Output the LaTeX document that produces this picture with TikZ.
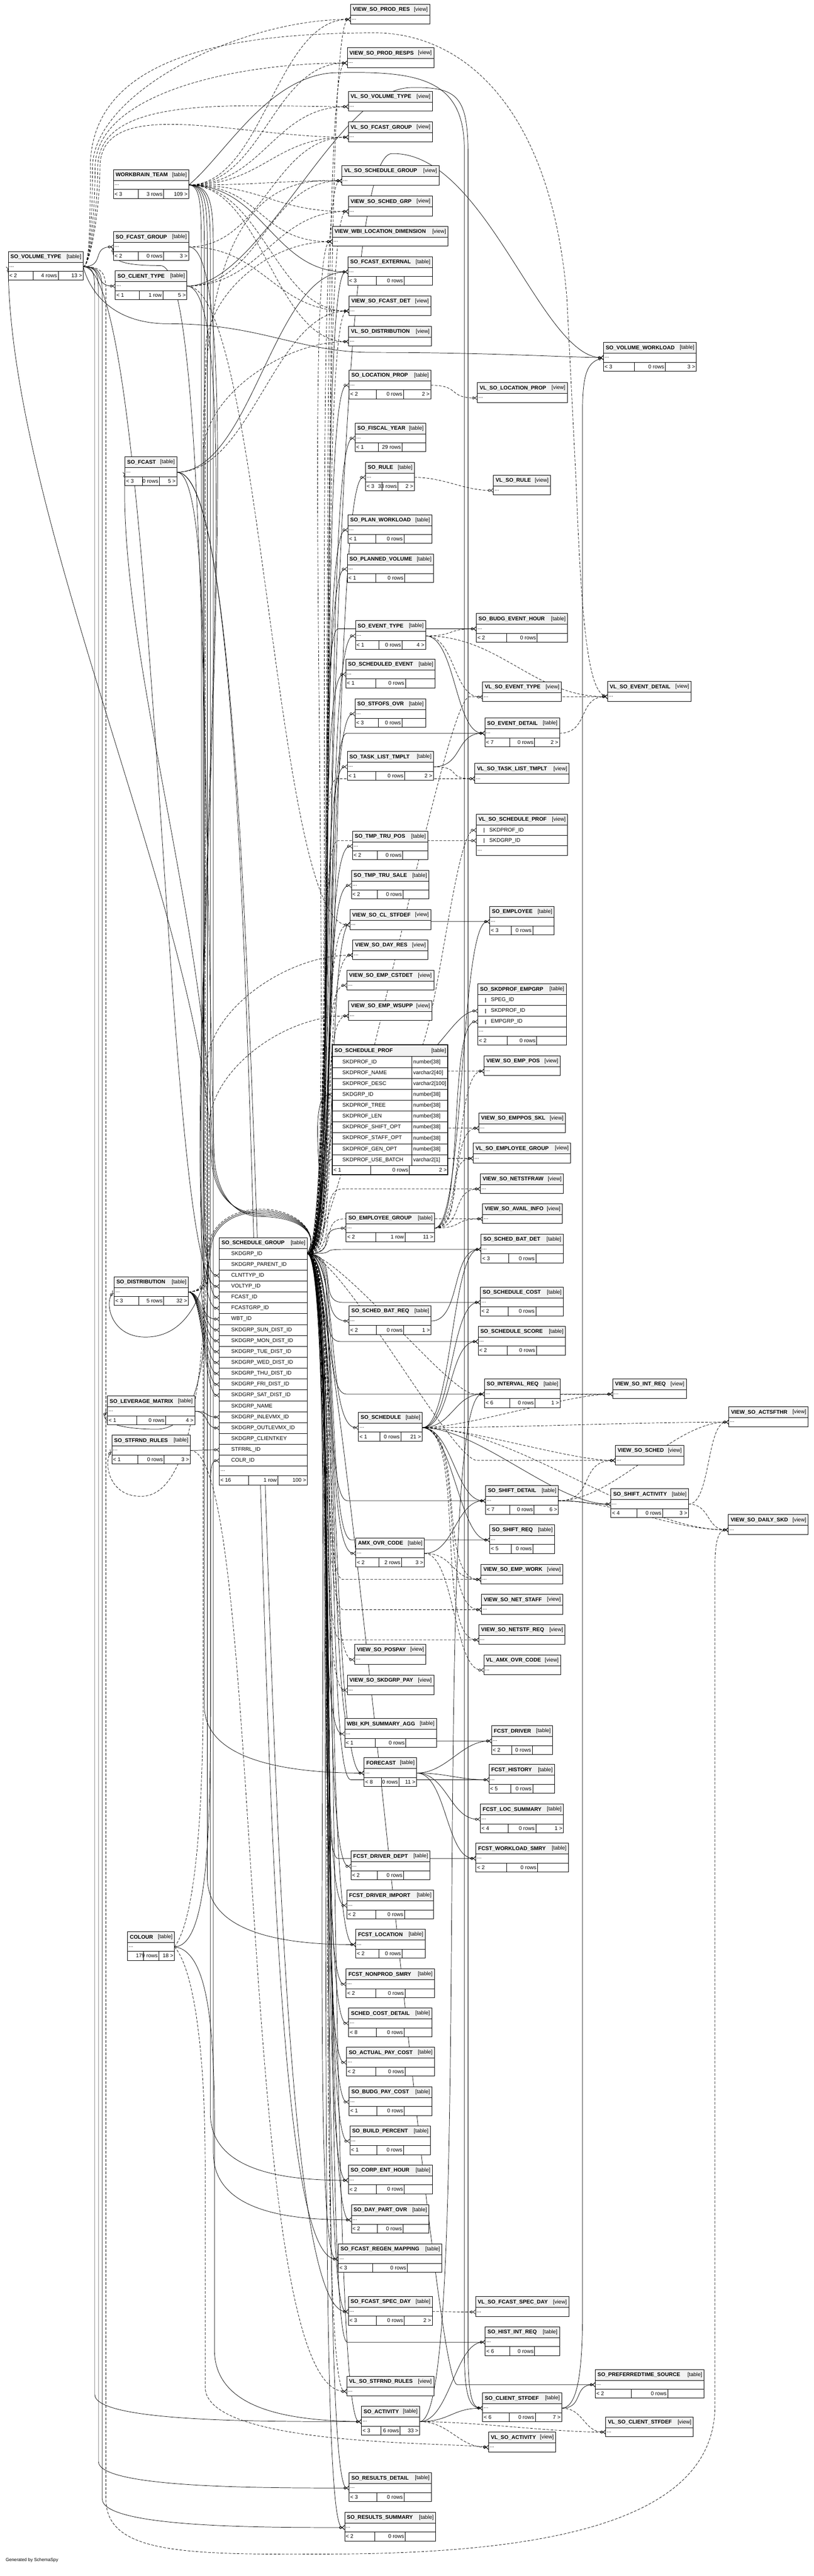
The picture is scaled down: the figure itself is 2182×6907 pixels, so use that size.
\documentclass[tikz,border=0pt]{standalone}
\usepackage{fontspec}
\usetikzlibrary{arrows.meta,calc}
\newfontfamily\tablefamily{Liberation Sans}
\newcommand{\tablefont}{\tablefamily\fontsize{14.4bp}{17bp}\selectfont}
\definecolor{headgray}{HTML}{F2F2F2}
\pgfdeclarelayer{edges}
\pgfsetlayers{edges,main}
\newlength{\footwa}\newlength{\footwb}\newlength{\footwc}

\tikzset{
  cellline/.style={line width=1bp},
  cell/.style={draw, cellline, inner sep=0pt, outer sep=0pt, fill=white},
  headcell/.style={cell, fill=headgray, minimum height=29bp},
  dotcell/.style={cell, minimum height=24bp},
  footcell/.style={cell, minimum height=24bp},
  colcell/.style={cell, minimum height=29.2bp},
  celltext/.style={inner sep=3bp, font=\tablefont},
  titletext/.style={celltext, font=\tablefont\bfseries},
  keymark/.style={line width=1.6bp},
  fk/.style={line width=1bp, -{Circle[open,length=7bp,width=7bp,line width=1bp] Straight Barb[reversed,length=6bp,width=11bp,line width=1bp]}},
  implied/.style={fk, dash pattern=on 7bp off 4bp}
}

% header row: node, x, y, x right, title, kind
\newcommand{\dbheader}[6]{%
  \node[headcell, minimum width={(#4-#2)*1bp}, anchor=north west] (#1-h) at ({#2},{#3}) {};
  \node[titletext, anchor=west] at ([xshift=3bp]#1-h.west) {#5};
  \node[celltext, anchor=east] at ([xshift=-2bp]#1-h.east) {[#6]};
}
% the "..." row, which the connectors use
\newcommand{\dbdots}[4]{%
  \node[dotcell, minimum width={(#4-#2)*1bp}, anchor=north west] (#1) at ({#2},{#3}) {};
  \node[celltext, anchor=west] at (#1.west) {...};
}
% footer row: node, x, y, x right, parents, rows, children
\newcommand{\dbfooter}[7]{%
  \settowidth{\footwa}{\tablefont #5}\settowidth{\footwb}{\tablefont #6}\settowidth{\footwc}{\tablefont #7}%
  \pgfmathsetmacro{\tblextra}{((#4-#2)*1.00374-\footwa-\footwb-\footwc-24)/3}%
  \pgfmathsetmacro{\splitA}{#2+(\footwa+8+\tblextra)/1.00374}%
  \pgfmathsetmacro{\splitB}{\splitA+(\footwb+8+\tblextra)/1.00374}%
  \node[footcell, minimum width={(#4-#2)*1bp}, anchor=north west] (#1-f) at ({#2},{#3}) {};
  \draw[cellline] ({\splitA},{#3}) -- ++(0,24);
  \draw[cellline] ({\splitB},{#3}) -- ++(0,24);
  \node[celltext, anchor=west] at (#1-f.west) {#5};
  \node[celltext, anchor=east] at ({\splitB},{#3+12}) {#6};
  \node[celltext, anchor=east] at (#1-f.east) {#7};
}
\newcommand{\dbview}[5]{%
  \dbheader{#1}{#2}{#3}{#4}{#5}{view}
  \dbdots{#1}{#2}{#3+29}{#4}
}
\newcommand{\dbtable}[8]{%
  \dbheader{#1}{#2}{#3}{#4}{#5}{table}
  \dbdots{#1}{#2}{#3+29}{#4}
  \dbfooter{#1}{#2}{#3+53}{#4}{#6}{#7}{#8}
}

\begin{document}
\begin{tikzpicture}[x=1bp,y=-1bp]
\useasboundingbox (0,0) rectangle (2182,6907);

% left column tables
\dbtable{volType}{22}{674}{223}{SO\_VOLUME\_TYPE}{< 2}{4 rows}{13 >}
\dbtable{wbTeam}{304}{455}{506}{WORKBRAIN\_TEAM}{< 3}{3 rows}{109 >}
\dbtable{fcastGrp}{304}{621}{506}{SO\_FCAST\_GROUP}{< 2}{0 rows}{3 >}
\dbtable{clientType}{309}{726}{501}{SO\_CLIENT\_TYPE}{< 1}{1 row}{5 >}
\dbtable{fcast}{335}{1225}{474}{SO\_FCAST}{< 3}{0 rows}{5 >}
\dbtable{dist}{306}{3423}{505}{SO\_DISTRIBUTION}{< 3}{5 rows}{32 >}
\dbtable{levMatrix}{288}{3743}{522}{SO\_LEVERAGE\_MATRIX}{< 1}{0 rows}{4 >}
\dbtable{stfrndRules}{300}{3848}{510}{SO\_STFRND\_RULES}{< 1}{0 rows}{3 >}
\dbtable{colour}{342}{5179}{468}{COLOUR}{}{179 rows}{18 >}

% schedule group table
\dbheader{schedGrp}{588}{3318}{824}{SO\_SCHEDULE\_GROUP}{table}
\foreach \colname [count=\i] in {SKDGRP\_ID,SKDGRP\_PARENT\_ID,CLNTTYP\_ID,VOLTYP\_ID,FCAST\_ID,FCASTGRP\_ID,WBT\_ID,SKDGRP\_SUN\_DIST\_ID,SKDGRP\_MON\_DIST\_ID,SKDGRP\_TUE\_DIST\_ID,SKDGRP\_WED\_DIST\_ID,SKDGRP\_THU\_DIST\_ID,SKDGRP\_FRI\_DIST\_ID,SKDGRP\_SAT\_DIST\_ID,SKDGRP\_NAME,SKDGRP\_INLEVMX\_ID,SKDGRP\_OUTLEVMX\_ID,SKDGRP\_CLIENTKEY,STFRRL\_ID,COLR\_ID} {
  \node[colcell, minimum width=236bp, anchor=north west] (schedGrp-\i) at (588,{3347+29.2*(\i-1)}) {};
  \node[celltext, anchor=west] at ([xshift=29bp]schedGrp-\i.west) {\colname};
}
\node[dotcell, minimum width=236bp, minimum height=26bp, anchor=north west] (schedGrp) at (588,3931) {};
\node[celltext, anchor=west] at (schedGrp.west) {...};
\dbfooter{schedGrp}{588}{3957}{824}{< 16}{1 row}{100 >}

% middle column
\dbview{viewProdRes}{940}{11}{1152}{VIEW\_SO\_PROD\_RES}
\dbview{viewProdResps}{931}{128}{1163}{VIEW\_SO\_PROD\_RESPS}
\dbview{vlVolType}{934}{245}{1159}{VL\_SO\_VOLUME\_TYPE}
\dbview{vlFcastGrp}{934}{327}{1159}{VL\_SO\_FCAST\_GROUP}
\dbview{vlSchedGrp}{917}{444}{1177}{VL\_SO\_SCHEDULE\_GROUP}
\dbview{viewSchedGrp}{934}{526}{1159}{VIEW\_SO\_SCHED\_GRP}
\dbview{viewWbiLoc}{891}{607}{1201}{VIEW\_WBI\_LOCATION\_DIMENSION}
\dbtable{fcastExt}{933}{688}{1159}{SO\_FCAST\_EXTERNAL}{< 3}{0 rows}{}
\dbview{viewFcastDet}{936}{793}{1155}{VIEW\_SO\_FCAST\_DET}
\dbview{vlDist}{935}{875}{1157}{VL\_SO\_DISTRIBUTION}
\dbtable{locProp}{936}{992}{1155}{SO\_LOCATION\_PROP}{< 2}{0 rows}{2 >}
\dbtable{fiscalYear}{952}{1134}{1141}{SO\_FISCAL\_YEAR}{< 1}{29 rows}{}
\dbtable{rule}{980}{1239}{1111}{SO\_RULE}{< 3}{33 rows}{2 >}
\dbtable{planWorkload}{933}{1380}{1158}{SO\_PLAN\_WORKLOAD}{< 1}{0 rows}{}
\dbtable{plannedVol}{931}{1485}{1162}{SO\_PLANNED\_VOLUME}{< 1}{0 rows}{}
\dbtable{eventType}{953}{1664}{1141}{SO\_EVENT\_TYPE}{< 1}{0 rows}{4 >}
\dbtable{schedEvent}{927}{1767}{1167}{SO\_SCHEDULED\_EVENT}{< 1}{0 rows}{}
\dbtable{stfofsOvr}{952}{1873}{1141}{SO\_STFOFS\_OVR}{< 3}{0 rows}{}
\dbtable{taskList}{931}{2015}{1162}{SO\_TASK\_LIST\_TMPLT}{< 1}{0 rows}{2 >}
\dbtable{tmpTruPos}{945}{2228}{1147}{SO\_TMP\_TRU\_POS}{< 2}{0 rows}{}
\dbtable{tmpTruSale}{942}{2333}{1150}{SO\_TMP\_TRU\_SALE}{< 2}{0 rows}{}
\dbview{viewClStfdef}{938}{2439}{1155}{VIEW\_SO\_CL\_STFDEF}
\dbview{viewDayRes}{946}{2520}{1147}{VIEW\_SO\_DAY\_RES}
\dbview{viewEmpCstdet}{930}{2601}{1163}{VIEW\_SO\_EMP\_CSTDET}
\dbview{viewEmpWsupp}{935}{2683}{1158}{VIEW\_SO\_EMP\_WSUPP}

% schedule prof table (drawn heavier)
\node[headcell, minimum width=310bp, minimum height=31bp, anchor=north west] (schedProf-h) at (891,2802) {};
\node[titletext, anchor=west] at ([xshift=3bp]schedProf-h.west) {SO\_SCHEDULE\_PROF};
\node[celltext, anchor=east] at ([xshift=-2bp]schedProf-h.east) {[table]};
\foreach \colname/\coltype [count=\i] in {SKDPROF\_ID/number[38],SKDPROF\_NAME/varchar2[40],SKDPROF\_DESC/varchar2[100],SKDGRP\_ID/number[38],SKDPROF\_TREE/number[38],SKDPROF\_LEN/number[38],SKDPROF\_SHIFT\_OPT/number[38],SKDPROF\_STAFF\_OPT/number[38],SKDPROF\_GEN\_OPT/number[38],SKDPROF\_USE\_BATCH/varchar2[1]} {
  \node[colcell, minimum width=213bp, anchor=north west] (schedProf-\i) at (891,{2833+29.2*(\i-1)}) {};
  \node[colcell, minimum width=97bp, anchor=north west] (schedProfType-\i) at (1104,{2833+29.2*(\i-1)}) {};
  \node[celltext, anchor=west] at ([xshift=24bp]schedProf-\i.west) {\colname};
  \node[celltext, anchor=west] at ([xshift=1bp]schedProfType-\i.west) {\coltype};
}
\dbfooter{schedProf}{891}{3125}{1201}{< 1}{0 rows}{2 >}
\draw[line width=2.6bp] (891,2802) rectangle (1201,3149);

\dbtable{empGroup}{928}{3252}{1165}{SO\_EMPLOYEE\_GROUP}{< 2}{1 row}{11 >}
\dbtable{schedBatReq}{936}{3501}{1156}{SO\_SCHED\_BAT\_REQ}{< 2}{0 rows}{1 >}
\dbtable{schedule}{961}{3787}{1132}{SO\_SCHEDULE}{< 1}{0 rows}{21 >}
\dbtable{amxOvr}{954}{4124}{1138}{AMX\_OVR\_CODE}{< 2}{2 rows}{3 >}
\dbview{viewPospay}{951}{4409}{1142}{VIEW\_SO\_POSPAY}
\dbview{viewSkdgrpPay}{931}{4491}{1163}{VIEW\_SO\_SKDGRP\_PAY}
\dbtable{wbiKpi}{924}{4608}{1170}{WBI\_KPI\_SUMMARY\_AGG}{< 1}{0 rows}{}
\dbtable{forecast}{976}{4713}{1117}{FORECAST}{< 8}{0 rows}{11 >}
\dbtable{fcstDriverDept}{941}{4963}{1153}{FCST\_DRIVER\_DEPT}{< 2}{0 rows}{}
\dbtable{fcstDriverImport}{930}{5068}{1162}{FCST\_DRIVER\_IMPORT}{< 2}{0 rows}{}
\dbtable{fcstLocation}{954}{5173}{1140}{FCST\_LOCATION}{< 2}{0 rows}{}
\dbtable{fcstNonprod}{928}{5279}{1165}{FCST\_NONPROD\_SMRY}{< 2}{0 rows}{}
\dbtable{schedCostDet}{935}{5384}{1158}{SCHED\_COST\_DETAIL}{< 8}{0 rows}{}
\dbtable{actualPay}{929}{5489}{1165}{SO\_ACTUAL\_PAY\_COST}{< 2}{0 rows}{}
\dbtable{budgPay}{936}{5595}{1158}{SO\_BUDG\_PAY\_COST}{< 1}{0 rows}{}
\dbtable{buildPct}{938}{5700}{1154}{SO\_BUILD\_PERCENT}{< 1}{0 rows}{}
\dbtable{corpEnt}{934}{5805}{1159}{SO\_CORP\_ENT\_HOUR}{< 2}{0 rows}{}
\dbtable{dayPart}{942}{5911}{1150}{SO\_DAY\_PART\_OVR}{< 2}{0 rows}{}
\dbtable{regenMap}{907}{6016}{1185}{SO\_FCAST\_REGEN\_MAPPING}{< 3}{0 rows}{}
\dbtable{fcastSpecDay}{934}{6157}{1159}{SO\_FCAST\_SPEC\_DAY}{< 3}{0 rows}{2 >}
\dbview{vlStfrnd}{930}{6371}{1163}{VL\_SO\_STFRND\_RULES}
\dbtable{activity}{969}{6452}{1125}{SO\_ACTIVITY}{< 3}{6 rows}{33 >}
\dbtable{resultsDet}{936}{6630}{1157}{SO\_RESULTS\_DETAIL}{< 3}{0 rows}{}
\dbtable{resultsSum}{924}{6736}{1168}{SO\_RESULTS\_SUMMARY}{< 2}{0 rows}{}

% right column
\dbview{vlLocProp}{1280}{1026}{1521}{VL\_SO\_LOCATION\_PROP}
\dbview{vlRule}{1323}{1274}{1476}{VL\_SO\_RULE}
\dbtable{budgEvent}{1277}{1645}{1522}{SO\_BUDG\_EVENT\_HOUR}{< 2}{0 rows}{}
\dbview{vlEventType}{1294}{1828}{1505}{VL\_SO\_EVENT\_TYPE}
\dbtable{eventDetail}{1300}{1925}{1500}{SO\_EVENT\_DETAIL}{< 7}{0 rows}{2 >}
\dbview{vlTaskList}{1273}{2047}{1526}{VL\_SO\_TASK\_LIST\_TMPLT}

% schedule prof view with its two key columns
\dbheader{vlSchedProf}{1277}{2183}{1522}{VL\_SO\_SCHEDULE\_PROF}{view}
\foreach \colname [count=\i] in {SKDPROF\_ID,SKDGRP\_ID} {
  \node[colcell, minimum width=245bp, minimum height=28bp, anchor=north west] (vlSchedProf-\i) at (1277,{2212+28*(\i-1)}) {};
  \draw[keymark] ([xshift=21bp,yshift=6bp]vlSchedProf-\i.west) -- ++(0,12);
  \node[celltext, anchor=west] at ([xshift=32bp]vlSchedProf-\i.west) {\colname};
}
\node[dotcell, minimum width=245bp, minimum height=26bp, anchor=north west] (vlSchedProf) at (1277,2268) {};
\node[celltext, anchor=west] at (vlSchedProf.west) {...};

\dbtable{employee}{1313}{2430}{1486}{SO\_EMPLOYEE}{< 3}{0 rows}{}

% skdprof / employee group table
\dbheader{skdprofEmpgrp}{1281}{2638}{1518}{SO\_SKDPROF\_EMPGRP}{table}
\foreach \colname [count=\i] in {SPEG\_ID,SKDPROF\_ID,EMPGRP\_ID} {
  \node[colcell, minimum width=237bp, minimum height=29bp, anchor=north west] (skdprofEmpgrp-\i) at (1281,{2667+29*(\i-1)}) {};
  \draw[keymark] ([xshift=21bp,yshift=6bp]skdprofEmpgrp-\i.west) -- ++(0,12);
  \node[celltext, anchor=west] at ([xshift=32bp]skdprofEmpgrp-\i.west) {\colname};
}
\dbdots{skdprofEmpgrp}{1281}{2754}{1518}
\dbfooter{skdprofEmpgrp}{1281}{2778}{1518}{< 2}{0 rows}{}

\dbview{viewEmpPos}{1298}{2831}{1502}{VIEW\_SO\_EMP\_POS}
\dbview{viewEmpposSkl}{1284}{2984}{1516}{VIEW\_SO\_EMPPOS\_SKL}
\dbview{vlEmpGroup}{1269}{3065}{1530}{VL\_SO\_EMPLOYEE\_GROUP}
\dbview{viewNetstfraw}{1288}{3147}{1511}{VIEW\_SO\_NETSTFRAW}
\dbview{viewAvail}{1294}{3227}{1508}{VIEW\_SO\_AVAIL\_INFO}
\dbtable{schedBatDet}{1290}{3309}{1510}{SO\_SCHED\_BAT\_DET}{< 3}{0 rows}{}
\dbtable{schedCost}{1288}{3451}{1511}{SO\_SCHEDULE\_COST}{< 2}{0 rows}{}
\dbtable{schedScore}{1282}{3556}{1516}{SO\_SCHEDULE\_SCORE}{< 2}{0 rows}{}
\dbtable{intervalReq}{1299}{3697}{1502}{SO\_INTERVAL\_REQ}{< 6}{0 rows}{1 >}
\dbtable{shiftDetail}{1302}{3983}{1497}{SO\_SHIFT\_DETAIL}{< 7}{0 rows}{6 >}
\dbtable{shiftReq}{1313}{4088}{1487}{SO\_SHIFT\_REQ}{< 5}{0 rows}{}
\dbview{viewEmpWork}{1290}{4194}{1509}{VIEW\_SO\_EMP\_WORK}
\dbview{viewNetStaff}{1291}{4275}{1509}{VIEW\_SO\_NET\_STAFF}
\dbview{viewNetstfReq}{1284}{4356}{1515}{VIEW\_SO\_NETSTF\_REQ}
\dbview{vlAmxOvr}{1297}{4437}{1503}{VL\_AMX\_OVR\_CODE}
\dbtable{fcstDriver}{1318}{4627}{1482}{FCST\_DRIVER}{< 2}{0 rows}{}
\dbtable{fcstHistory}{1311}{4731}{1487}{FCST\_HISTORY}{< 5}{0 rows}{}
\dbtable{fcstLocSum}{1288}{4837}{1511}{FCST\_LOC\_SUMMARY}{< 4}{0 rows}{1 >}
\dbtable{fcstWorkload}{1276}{4942}{1524}{FCST\_WORKLOAD\_SMRY}{< 2}{0 rows}{}
\dbview{vlFcastSpecDay}{1275}{6158}{1525}{VL\_SO\_FCAST\_SPEC\_DAY}
\dbtable{histIntReq}{1301}{6239}{1500}{SO\_HIST\_INT\_REQ}{< 6}{0 rows}{}
\dbtable{clientStfdef}{1294}{6416}{1506}{SO\_CLIENT\_STFDEF}{< 6}{0 rows}{7 >}
\dbview{vlActivity}{1310}{6521}{1490}{VL\_SO\_ACTIVITY}

% far right
\dbtable{volWorkload}{1618}{918}{1867}{SO\_VOLUME\_WORKLOAD}{< 3}{0 rows}{3 >}
\dbview{vlEventDetail}{1629}{1827}{1853}{VL\_SO\_EVENT\_DETAIL}
\dbview{viewIntReq}{1643}{3697}{1840}{VIEW\_SO\_INT\_REQ}
\dbview{viewSched}{1650}{3875}{1833}{VIEW\_SO\_SCHED}
\dbtable{shiftActivity}{1638}{3992}{1846}{SO\_SHIFT\_ACTIVITY}{< 4}{0 rows}{3 >}
\dbtable{prefTime}{1596}{6353}{1888}{SO\_PREFERREDTIME\_SOURCE}{< 2}{0 rows}{}
\dbview{vlClientStfdef}{1624}{6480}{1859}{VL\_SO\_CLIENT\_STFDEF}
\dbview{viewActsfthr}{1954}{3772}{2167}{VIEW\_SO\_ACTSFTHR}
\dbview{viewDailySkd}{1953}{4061}{2167}{VIEW\_SO\_DAILY\_SKD}

\node[celltext, anchor=west, font=\tablefamily\fontsize{12bp}{14bp}\selectfont] (credit) at (12,6864) {Generated by SchemaSpy};

\begin{pgfonlayer}{edges}
\fill[white] (0,0) rectangle (2182,6907);

% schedule group to its children
\foreach \tgt in {fcastExt,locProp,fiscalYear,rule,planWorkload,plannedVol,eventType,schedEvent,stfofsOvr,taskList,tmpTruPos,tmpTruSale,empGroup,schedBatReq,schedule,amxOvr,wbiKpi,forecast,fcstDriverDept,fcstDriverImport,fcstLocation,fcstNonprod,schedCostDet,actualPay,budgPay,buildPct,corpEnt,dayPart,regenMap,fcastSpecDay,activity,resultsDet,resultsSum,schedProf-4}
  \draw[fk] (schedGrp-1.east) .. controls +(90,0) and +(-90,0) .. (\tgt.west);
\foreach \tgt in {viewProdRes,viewProdResps,vlSchedGrp,viewSchedGrp,viewWbiLoc,viewFcastDet,viewClStfdef,viewDayRes,viewEmpCstdet,viewEmpWsupp,viewPospay,viewSkdgrpPay,vlStfrnd}
  \draw[implied] (schedGrp-1.east) .. controls +(90,0) and +(-90,0) .. (\tgt.west);
\foreach \tgt in {budgEvent,eventDetail,employee,schedBatDet,schedCost,schedScore,intervalReq,shiftDetail,shiftReq,fcstDriver,fcstHistory,fcstWorkload,histIntReq,prefTime}
  \draw[fk] (schedGrp-1.east) .. controls +(90,0) and +(-70,0) .. ($(\tgt.west)+(-370,0)$) -- (\tgt.west);
\foreach \tgt in {viewEmpPos,viewEmpposSkl,vlEmpGroup,viewNetstfraw,viewAvail,viewEmpWork,viewNetStaff,viewNetstfReq,viewSched,vlEventDetail,viewIntReq,vlTaskList,vlSchedProf-2}
  \draw[implied] (schedGrp-1.east) .. controls +(90,0) and +(-70,0) .. ($(\tgt.west)+(-370,0)$) -- (\tgt.west);
\draw[fk] (schedGrp-1.east) .. controls (900,3362) and (870,420) .. (1050,412) .. controls (1300,404) and (1450,957) .. (volWorkload.west);

% schedule group back to the tables on its left
\draw[fk] (schedGrp-1.east) .. controls (860,3300) and (790,3250) .. (700,3250) .. controls (620,3250) and (575,3290) .. (566,3340) .. controls (556,3430) and (520,3585) .. (390,3585) .. controls (295,3585) and (280,3490) .. (dist.west);
\draw[fk] (schedGrp-1.east) .. controls (860,3300) and (790,3246) .. (700,3246) .. controls (618,3246) and (570,3290) .. (562,3340) .. controls (550,3520) and (565,3832) .. (420,3832) .. controls (300,3832) and (268,3805) .. (levMatrix.west);
\draw[implied] (schedGrp-1.east) .. controls (860,3300) and (790,3242) .. (700,3242) .. controls (615,3242) and (566,3290) .. (558,3340) .. controls (545,3650) and (520,4010) .. (380,4012) .. controls (290,4014) and (278,3920) .. (stfrndRules.west);
\draw[fk] (schedGrp-1.east) .. controls (860,3300) and (790,3254) .. (700,3254) .. controls (620,3254) and (572,3200) .. (566,3100) .. controls (556,2500) and (30,1400) .. (volType.west);
\draw[fk] (schedGrp-1.east) .. controls (860,3300) and (790,3258) .. (700,3258) .. controls (624,3258) and (576,3200) .. (570,3100) .. controls (560,2500) and (320,1750) .. (fcast.west);
\draw[fk] (schedGrp-1.east) .. controls (860,3300) and (790,3262) .. (700,3262) .. controls (628,3262) and (580,3200) .. (574,3100) .. controls (545,2000) and (545,712) .. (430,712) .. controls (330,712) and (298,700) .. (fcastGrp.west);

% workbrain team
\draw[fk] (wbTeam.east) .. controls (540,496) and (540,560) .. (540,700) -- (540,3450) .. controls (540,3520) and (555,3537) .. (schedGrp-7.west);
\foreach \tgt in {viewProdRes,viewProdResps,vlVolType,vlFcastGrp,vlSchedGrp,viewSchedGrp,viewWbiLoc,viewFcastDet,vlDist}
  \draw[implied] (wbTeam.east) .. controls +(200,0) and +(-200,0) .. (\tgt.west);
\draw[fk] (wbTeam.east) .. controls +(200,0) and +(-200,0) .. (fcastExt.west);
\draw[fk] (wbTeam.east) .. controls (600,420) and (720,200) .. (900,195) .. controls (1120,190) and (1245,210) .. (1245,400) -- (1245,6300) .. controls (1245,6430) and (1260,6455) .. (clientStfdef.west);
\foreach \tgt/\bx in {forecast/548,fcstLocation/556,corpEnt/564,dayPart/572}
  \draw[fk] (wbTeam.east) .. controls (\bx,496) and (\bx,560) .. (\bx,700) -- ($(\bx,0 |- \tgt.west)+(0,-180)$) .. controls +(0,160) and +(-160,0) .. (\tgt.west);

% volume type
\foreach \tgt/\bx in {viewProdRes/248,viewProdResps/255,vlVolType/262,vlFcastGrp/268}
  \draw[implied] (volType.east) .. controls +(20,0) and +(0,100) .. (\bx,450) .. controls +(0,-200) and +(-300,0) .. (\tgt.west);
\draw[implied] (volType.east) .. controls +(20,0) and +(0,100) .. (242,450) .. controls +(0,-330) and (700,90) .. (1000,88) .. controls (1250,86) and (1480,300) .. (1520,800) -- (1545,1300) .. controls (1560,1700) and (1580,1854) .. (vlEventDetail.west);
\draw[fk] (volType.east) .. controls +(60,0) and +(-60,0) .. (fcastGrp.west);
\draw[fk] (volType.east) .. controls +(60,0) and +(-60,0) .. (clientType.west);
\draw[fk] (volType.east) .. controls +(200,0) and +(-150,0) .. (schedGrp-4.west);
\draw[fk] (volType.east) .. controls (240,780) and (300,868) .. (450,868) .. controls (700,868) and (800,945) .. (1000,945) .. controls (1300,945) and (1500,957) .. (volWorkload.west);
\draw[fk] (volType.east) .. controls (254,715) and (254,740) .. (254,800) -- (254,6420) .. controls (254,6494) and (700,6493) .. (activity.west);
\draw[fk] (volType.east) .. controls (264,715) and (264,740) .. (264,800) -- (264,6600) .. controls (264,6671) and (700,6671) .. (resultsDet.west);
\draw[fk] (volType.east) .. controls (274,715) and (274,740) .. (274,800) -- (274,6700) .. controls (274,6777) and (700,6777) .. (resultsSum.west);
\draw[implied] (volType.east) .. controls (284,715) and (284,740) .. (284,800) -- (284,6700) .. controls (284,6850) and (500,6850) .. (900,6848) .. controls (1500,6845) and (1917,6750) .. (1917,6450) -- (1917,4200) .. controls (1917,4120) and (1930,4102) .. (viewDailySkd.west);

% forecast group, client type, forecast
\draw[fk] (fcastGrp.east) .. controls +(200,0) and +(-150,0) .. (schedGrp-6.west);
\draw[implied] (fcastGrp.east) .. controls +(200,0) and +(-200,0) .. (vlFcastGrp.west);
\draw[implied] (fcastGrp.east) .. controls +(200,0) and +(-200,0) .. (viewFcastDet.west);
\draw[fk] (clientType.east) .. controls +(200,0) and +(-150,0) .. (schedGrp-3.west);
\draw[implied] (clientType.east) .. controls +(200,0) and +(-200,0) .. (vlSchedGrp.west);
\draw[implied] (clientType.east) .. controls +(200,0) and +(-200,0) .. (viewSchedGrp.west);
\draw[implied] (clientType.east) .. controls +(200,0) and +(-200,0) .. (viewClStfdef.west);
\draw[fk] (clientType.east) .. controls (700,767) and (900,240) .. (1100,235) .. controls (1230,232) and (1255,260) .. (1255,420) -- (1255,6300) .. controls (1255,6440) and (1270,6455) .. (clientStfdef.west);
\draw[fk] (fcast.east) .. controls +(150,0) and +(-100,0) .. (schedGrp-5.west);
\draw[fk] (fcast.east) .. controls +(200,0) and +(-200,0) .. (fcastExt.west);
\draw[implied] (fcast.east) .. controls +(200,0) and +(-200,0) .. (viewFcastDet.west);
\draw[fk] (fcast.east) .. controls +(300,0) and +(-300,0) .. (fcastSpecDay.west);
\draw[fk] (fcast.east) .. controls +(300,0) and +(-300,0) .. (regenMap.west);

% distribution, leverage matrix, staffing rules, colour
\foreach \i in {8,...,14}
  \draw[fk] (dist.east) .. controls +(40,0) and +(-40,0) .. (schedGrp-\i.west);
\foreach \tgt/\bx in {vlDist/545,viewWbiLoc/550,viewDayRes/555,viewEmpWsupp/560}
  \draw[implied] (dist.east) .. controls (\bx,3461) and (\bx,3440) .. (\bx,3380) -- ($(\bx,0 |- \tgt.west)+(0,300)$) .. controls +(0,-150) and +(-180,0) .. (\tgt.west);
\draw[fk] (levMatrix.east) .. controls +(40,0) and +(-40,0) .. (schedGrp-16.west);
\draw[fk] (levMatrix.east) .. controls +(40,0) and +(-40,0) .. (schedGrp-17.west);
\draw[fk] (stfrndRules.east) .. controls +(40,0) and +(-40,0) .. (schedGrp-19.west);
\draw[implied] (stfrndRules.east) .. controls +(200,0) and +(-300,0) .. (vlStfrnd.west);
\draw[fk] (colour.east) .. controls (560,5217) and (565,4900) .. (565,4500) -- (565,4050) .. controls (565,3960) and (560,3916) .. (schedGrp-20.west);
\draw[implied] (colour.east) .. controls (520,5150) and (545,4900) .. (545,4500) -- (545,1200) .. controls (545,600) and (700,471) .. (vlSchedGrp.west);
\draw[fk] (colour.east) .. controls (560,5230) and (575,5450) .. (575,5700) -- (575,6300) .. controls (575,6470) and (800,6490) .. (activity.west);
\draw[implied] (colour.east) .. controls (520,5280) and (550,5500) .. (550,5800) -- (550,6400) .. controls (550,6560) and (1200,6548) .. (vlActivity.west);

% middle to right
\draw[implied] (locProp.east) .. controls +(80,0) and +(-80,0) .. (vlLocProp.west);
\draw[implied] (rule.east) .. controls +(80,0) and +(-80,0) .. (vlRule.west);
\draw[implied] (eventType.east) .. controls +(80,0) and +(-80,0) .. (budgEvent.west);
\draw[implied] (eventType.east) .. controls +(80,0) and +(-80,0) .. (vlEventType.west);
\draw[fk] (eventType.east) .. controls +(80,0) and +(-80,0) .. (eventDetail.west);
\draw[implied] (eventType.east) .. controls +(200,0) and +(-200,0) .. (vlEventDetail.west);
\draw[implied] (taskList.east) .. controls +(80,0) and +(-80,0) .. (vlTaskList.west);
\draw[fk] (taskList.east) .. controls +(80,0) and +(-80,0) .. (eventDetail.west);
\draw[implied] (eventDetail.east) .. controls +(80,0) and +(-80,0) .. (vlEventDetail.west);
\draw[implied] (schedProf-1.east) .. controls +(60,0) and +(-60,0) .. (vlSchedProf-1.west);
\draw[fk] (schedProf-1.east) .. controls +(60,0) and +(-60,0) .. (skdprofEmpgrp-2.west);
\draw[fk] (empGroup.east) .. controls +(80,0) and +(-80,0) .. (skdprofEmpgrp-3.west);
\draw[fk] (empGroup.east) .. controls +(80,0) and +(-80,0) .. (employee.west);
\foreach \tgt in {viewEmpPos,viewEmpposSkl,vlEmpGroup,viewNetstfraw,viewAvail}
  \draw[implied] (empGroup.east) .. controls +(80,0) and +(-80,0) .. (\tgt.west);
\draw[fk] (schedBatReq.east) .. controls +(80,0) and +(-80,0) .. (schedBatDet.west);
\foreach \tgt in {schedBatDet,schedCost,schedScore,intervalReq,shiftDetail,shiftReq}
  \draw[fk] (schedule.east) .. controls +(80,0) and +(-80,0) .. (\tgt.west);
\draw[fk] (schedule.east) .. controls +(150,0) and +(-150,0) .. (shiftActivity.west);
\foreach \tgt in {viewIntReq,viewSched,viewEmpWork,viewNetStaff,viewNetstfReq}
  \draw[implied] (schedule.east) .. controls +(120,0) and +(-120,0) .. (\tgt.west);
\draw[implied] (schedule.east) .. controls +(250,0) and +(-250,0) .. (viewActsfthr.west);
\draw[implied] (schedule.east) .. controls +(250,0) and +(-250,0) .. (viewDailySkd.west);
\draw[implied] (intervalReq.east) .. controls +(80,0) and +(-80,0) .. (viewIntReq.west);
\draw[fk] (shiftDetail.east) .. controls +(80,0) and +(-80,0) .. (shiftActivity.west);
\draw[implied] (shiftDetail.east) .. controls +(100,0) and +(-100,0) .. (viewSched.west);
\draw[implied] (shiftDetail.east) .. controls +(150,0) and +(-150,0) .. (viewDailySkd.west);
\draw[implied] (shiftDetail.east) .. controls +(150,0) and +(-150,0) .. (viewActsfthr.west);
\draw[implied] (shiftActivity.east) .. controls +(60,0) and +(-60,0) .. (viewActsfthr.west);
\draw[implied] (shiftActivity.east) .. controls +(60,0) and +(-60,0) .. (viewDailySkd.west);
\draw[implied] (amxOvr.east) .. controls +(80,0) and +(-80,0) .. (vlAmxOvr.west);
\draw[implied] (amxOvr.east) .. controls +(80,0) and +(-80,0) .. (viewEmpWork.west);
\draw[fk] (amxOvr.east) .. controls +(80,0) and +(-80,0) .. (shiftDetail.west);
\foreach \tgt in {fcstDriver,fcstHistory,fcstLocSum,fcstWorkload}
  \draw[fk] (forecast.east) .. controls +(80,0) and +(-80,0) .. (\tgt.west);
\draw[implied] (fcastSpecDay.east) .. controls +(80,0) and +(-80,0) .. (vlFcastSpecDay.west);
\draw[fk] (activity.east) .. controls +(80,0) and +(-80,0) .. (clientStfdef.west);
\draw[fk] (activity.east) .. controls +(80,0) and +(-80,0) .. (histIntReq.west);
\draw[implied] (activity.east) .. controls +(80,0) and +(-80,0) .. (vlActivity.west);
\draw[implied] (activity.east) .. controls +(150,0) and +(-150,0) .. (vlClientStfdef.west);
\draw[fk] (activity.east) .. controls +(150,0) and +(-150,0) .. (intervalReq.west);
\draw[implied] (clientStfdef.east) .. controls +(60,0) and +(-60,0) .. (vlClientStfdef.west);
\draw[fk] (clientStfdef.east) .. controls +(60,0) and +(-60,0) .. (prefTime.west);
\draw[fk] (clientStfdef.east) .. controls (1540,6455) and (1562,6400) .. (1562,6200) -- (1562,1100) .. controls (1562,990) and (1580,971) .. (volWorkload.west);
\end{pgfonlayer}

\end{tikzpicture}
\end{document}
